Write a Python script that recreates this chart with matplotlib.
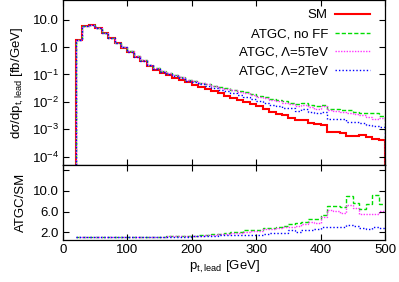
import matplotlib
matplotlib.use('Agg')
import matplotlib.pyplot as plt
import numpy as np

plt.rcParams['font.family'] = ['Liberation Sans', 'DejaVu Sans']
plt.rcParams['mathtext.default'] = 'regular'
plt.rcParams['font.size'] = 9.5

# bin edges in GeV (10 GeV bins from 20 to 500)
edges = np.arange(20, 501, 10)

# SM cross section per bin [fb/GeV]
sm = [1.76, 5.86, 6.37, 4.81, 3.25, 2.14, 1.40, 0.95, 0.66, 0.43,
      0.30, 0.20, 0.149, 0.116, 0.093, 0.076, 0.063, 0.051, 0.043, 0.035,
      0.030, 0.0245, 0.0204, 0.017, 0.0141, 0.0117, 0.0098, 0.0081, 0.0068, 0.0055,
      0.0043, 0.0037, 0.0032, 0.0026, 0.0022, 0.0022, 0.00174, 0.0015, 0.00145, 0.00079,
      0.00079, 0.00076, 0.00055, 0.00055, 0.0006, 0.00052, 0.00043, 0.00042]

# ATGC / SM ratios
ratio_noff = [1.00, 1.00, 1.01, 1.01, 1.02, 1.03, 1.04, 1.05, 1.07, 1.08,
              1.10, 1.12, 1.14, 1.16, 1.19, 1.22, 1.25, 1.28, 1.32, 1.40,
              1.48, 1.58, 1.70, 1.85, 2.00, 2.05, 2.35, 2.40, 2.45, 2.80,
              2.90, 3.10, 3.30, 3.60, 3.70, 4.00, 4.60, 4.57, 5.40, 7.00,
              7.00, 6.90, 9.00, 7.70, 6.50, 7.55, 9.20, 7.50]
ratio_5tev = [1.00, 1.00, 1.01, 1.01, 1.02, 1.03, 1.04, 1.05, 1.06, 1.07,
              1.09, 1.11, 1.13, 1.15, 1.18, 1.21, 1.24, 1.27, 1.30, 1.37,
              1.44, 1.52, 1.62, 1.75, 1.85, 1.95, 2.10, 2.20, 2.30, 2.60,
              2.65, 2.80, 2.95, 3.10, 3.30, 3.50, 3.90, 3.80, 5.00, 6.30,
              6.05, 5.70, 7.35, 6.60, 5.55, 5.55, 5.60, 6.20]
ratio_2tev = [1.00, 1.00, 1.00, 1.00, 1.01, 1.01, 1.02, 1.03, 1.04, 1.05,
              1.06, 1.07, 1.08, 1.09, 1.11, 1.13, 1.15, 1.17, 1.20, 1.24,
              1.28, 1.33, 1.38, 1.45, 1.50, 1.50, 1.55, 1.52, 1.55, 1.60,
              1.85, 1.85, 1.85, 2.35, 2.10, 2.50, 2.40, 2.60, 2.95, 3.10,
              3.10, 3.10, 3.45, 3.30, 2.90, 2.70, 3.00, 2.80]

labels = ['SM', 'ATGC, no FF', 'ATGC, \u039b=5TeV', 'ATGC, \u039b=2TeV']

sm = np.array(sm)
ratios = [np.array(ratio_noff), np.array(ratio_5tev), np.array(ratio_2tev)]

fig = plt.figure(figsize=(3.99, 2.82), dpi=100)
ax1 = fig.add_axes([63 / 399, 1 - 165 / 282, 322 / 399, 165 / 282])
ax2 = fig.add_axes([63 / 399, 1 - 240 / 282, 322 / 399, 75 / 282])

styles = [
    dict(color='#00dd00', lw=1.0, linestyle=(0, (3, 1.5))),
    dict(color='#ff33ff', lw=1.0, linestyle=(0, (1, 1))),
    dict(color='#0000ff', lw=1.0, linestyle=(0, (1, 1.5))),
]

# top panel
ax1.stairs(sm, edges, baseline=1e-9, color='#ff0000', lw=1.5, label=labels[0])
for r, st, lab in zip(ratios, styles, labels[1:]):
    ax1.stairs(sm * r, edges, baseline=1e-9, label=lab, **st)

ax1.set_yscale('log')
ax1.set_xlim(0, 500)
ax1.set_ylim(5e-5, 52)
ax1.set_yticks([1e-4, 1e-3, 1e-2, 1e-1, 1, 10])
ax1.set_yticklabels(['10$^{-4}$', '10$^{-3}$', '10$^{-2}$', '10$^{-1}$', '1.0', '10.0'])
ax1.yaxis.set_minor_locator(matplotlib.ticker.NullLocator())
ax1.set_xticks([0, 100, 200, 300, 400, 500])
ax1.set_xticklabels([])
ax1.set_ylabel('d\u03c3/dp$_{t,lead}$ [fb/GeV]', labelpad=4)

leg = ax1.legend(loc='upper right', bbox_to_anchor=(0.953, 0.945),
                 frameon=False, markerfirst=False, borderpad=0, borderaxespad=0,
                 handlelength=2.65, handletextpad=0.53, labelspacing=0.5)

# bottom panel
for r, st in zip(ratios, styles):
    ax2.stairs(r, edges, baseline=None, **st)

ax2.set_xlim(0, 500)
ax2.set_ylim(0.5, 15)
ax2.set_yticks([2, 6, 10, 14])
ax2.set_yticklabels(['2.0', '6.0', '10.0', ''])
ax2.set_xticks([0, 100, 200, 300, 400, 500])
ax2.set_xlabel('p$_{t,lead}$ [GeV]', labelpad=2)
ax2.set_ylabel('ATGC/SM', labelpad=4)

for ax in (ax1, ax2):
    ax.tick_params(direction='in', length=4, width=0.8, top=True, right=True,
                   labelsize=9.5, pad=3)
    for sp in ax.spines.values():
        sp.set_linewidth(0.9)
        sp.set_color('black')

fig.align_ylabels([ax1, ax2])
fig.savefig('out.png', dpi=100)
